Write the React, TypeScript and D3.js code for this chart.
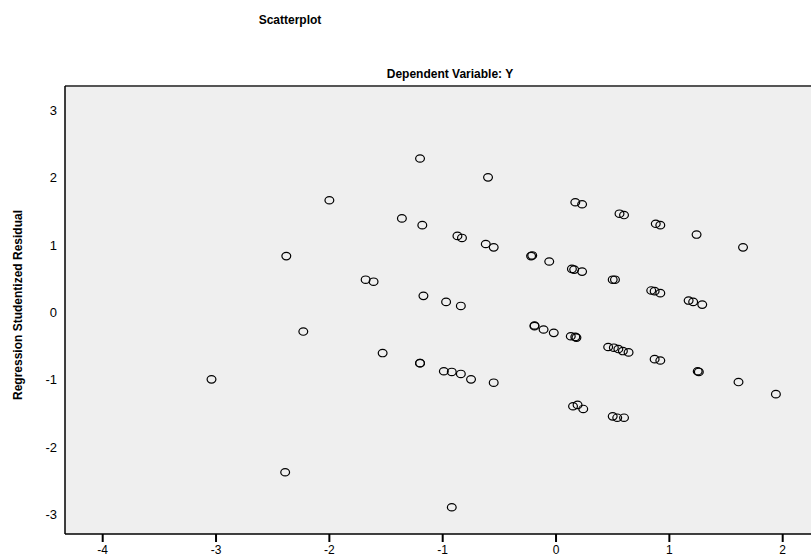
import React, { useRef, useEffect } from "react";
import * as d3 from "d3";

// standardized predicted value (x) vs studentized residual (y)
const predicted = [
  -1.2, -0.6, -2.0, -1.36, -1.18, -0.87, -0.83, -0.62, -0.55, -2.38,
  -1.68, -1.61, -1.17, -0.97, -0.84, -2.23, 0.17, 0.23, 0.56, 0.6,
  0.88, 0.92, 1.24, 1.65, -0.22, -0.21, -0.06, 0.14, 0.16, 0.23,
  0.5, 0.52, 0.84, 0.87, 0.92, 1.17, 1.21, 1.29, -0.19, -0.19,
  -0.11, -0.02, 0.13, 0.17, 0.18, 0.46, 0.51, 0.55, 0.59, 0.64,
  0.87, 0.92, 1.25, 1.26, 1.61, 1.94, -3.04, -1.53, -1.2, -1.2,
  -0.99, -0.92, -0.84, -0.75, -0.55, 0.15, 0.19, 0.24, 0.5, 0.54,
  0.6, -2.39, -0.92
];
const residual = [
  2.28, 2.0, 1.66, 1.39, 1.29, 1.13, 1.1, 1.01, 0.96, 0.83,
  0.48, 0.45, 0.24, 0.15, 0.09, -0.29, 1.63, 1.6, 1.46, 1.44,
  1.31, 1.29, 1.15, 0.96, 0.83, 0.84, 0.75, 0.64, 0.63, 0.6,
  0.48, 0.48, 0.32, 0.31, 0.28, 0.17, 0.15, 0.11, -0.21, -0.2,
  -0.26, -0.31, -0.36, -0.37, -0.38, -0.52, -0.53, -0.55, -0.58, -0.6,
  -0.7, -0.72, -0.88, -0.89, -1.04, -1.22, -1.0, -0.61, -0.76, -0.76,
  -0.88, -0.89, -0.92, -1.0, -1.05, -1.4, -1.38, -1.44, -1.55, -1.57,
  -1.57, -2.38, -2.9
];
const xTicks = [-4, -3, -2, -1, 0, 1, 2];
const yTicks = [3, 2, 1, 0, -1, -2, -3];

const title = "Scatterplot";
const subtitle = "Dependent Variable: Y";
const yTitle = "Regression Studentized Residual";

const App = () => {
  const svgRef = useRef(null);

  useEffect(() => {
    const width = 811;
    const plot = { left: 65, top: 86, bottom: 534, right: 830 };
    const font = "'Liberation Sans', Arial, sans-serif";

    const svg = d3.select(svgRef.current);
    svg.selectAll("*").remove();

    const x = d3.scaleLinear().domain([-4, 2]).range([102.7, 782.7]);
    const y = d3.scaleLinear().domain([3, -3]).range([110, 514]);

    svg.append("rect")
      .attr("x", plot.left)
      .attr("y", plot.top)
      .attr("width", plot.right - plot.left)
      .attr("height", plot.bottom - plot.top)
      .attr("fill", "#efefef");

    // frame: dark top, black left and bottom
    svg.append("line")
      .attr("x1", plot.left).attr("x2", width)
      .attr("y1", plot.top).attr("y2", plot.top)
      .attr("stroke", "#555").attr("stroke-width", 2);
    svg.append("line")
      .attr("x1", plot.left).attr("x2", plot.left)
      .attr("y1", plot.top).attr("y2", plot.bottom)
      .attr("stroke", "#000").attr("stroke-width", 1.5);
    svg.append("line")
      .attr("x1", plot.left).attr("x2", width)
      .attr("y1", plot.bottom).attr("y2", plot.bottom)
      .attr("stroke", "#000").attr("stroke-width", 1.5);

    svg.selectAll(".xtick")
      .data(xTicks)
      .enter()
      .append("line")
      .attr("x1", d => x(d)).attr("x2", d => x(d))
      .attr("y1", plot.bottom).attr("y2", plot.bottom + 8)
      .attr("stroke", "#000").attr("stroke-width", 2);

    svg.selectAll(".xlabel")
      .data(xTicks)
      .enter()
      .append("text")
      .attr("x", d => x(d))
      .attr("y", 554)
      .attr("text-anchor", "middle")
      .style("font-family", font)
      .style("font-size", "12px")
      .text(d => d);

    svg.selectAll(".ylabel")
      .data(yTicks)
      .enter()
      .append("text")
      .attr("x", 57)
      .attr("y", d => y(d) + 5)
      .attr("text-anchor", "end")
      .style("font-family", font)
      .style("font-size", "13px")
      .text(d => d);

    const points = predicted.map((p, i) => ({ p, r: residual[i] }));

    svg.append("g")
      .selectAll("ellipse")
      .data(points)
      .enter()
      .append("ellipse")
      .attr("cx", d => x(d.p))
      .attr("cy", d => y(d.r))
      .attr("rx", 4.4)
      .attr("ry", 3.7)
      .attr("fill", "none")
      .attr("stroke", "#000")
      .attr("stroke-width", 1.2);

    svg.append("text")
      .attr("x", 290).attr("y", 24)
      .attr("text-anchor", "middle")
      .style("font-family", font)
      .style("font-size", "12px")
      .style("font-weight", "bold")
      .text(title);

    svg.append("text")
      .attr("x", 450).attr("y", 78)
      .attr("text-anchor", "middle")
      .style("font-family", font)
      .style("font-size", "12px")
      .style("font-weight", "bold")
      .text(subtitle);

    svg.append("text")
      .attr("transform", "translate(22, 305) rotate(-90)")
      .attr("text-anchor", "middle")
      .style("font-family", font)
      .style("font-size", "12px")
      .style("font-weight", "bold")
      .text(yTitle);
  }, []);

  return (
    <svg
      ref={svgRef}
      width={811}
      height={557}
      style={{ position: "absolute", left: 0, top: 0, background: "#fff" }}
    ></svg>
  );
};

export default App;
